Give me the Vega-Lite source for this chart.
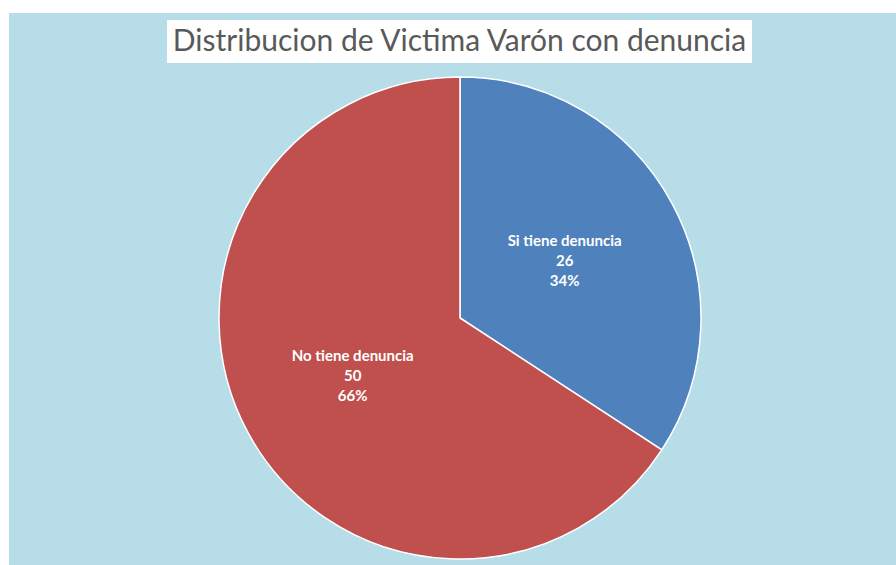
{
  "$schema": "https://vega.github.io/schema/vega-lite/v6.json",
  "background": "#FFFFFF",
  "padding": {"left": 9, "top": 13, "right": 0, "bottom": 0},
  "config": {"view": {"stroke": null}, "concat": {"spacing": 0}},
  "datasets": {
    "casos": [
      {"categoria": "Si tiene denuncia", "casos": 26, "porcentaje": 34},
      {"categoria": "No tiene denuncia", "casos": 50, "porcentaje": 66}
    ]
  },
  "spacing": 0,
  "vconcat": [
    {"data": {"values": []}, "mark": {"type": "text"}, "encoding": {}, "width": 887, "height": 7, "view": {"fill": "#B7DDE8"}},
    {
      "spacing": 0,
      "bounds": "flush",
      "hconcat": [
        {"data": {"values": []}, "mark": {"type": "text"}, "encoding": {}, "width": 158, "height": 43, "view": {"fill": "#B7DDE8"}},
        {
          "data": {"values": [{"titulo": "Distribucion de Victima Varón con denuncia"}]},
          "mark": {"type": "text", "font": "Lato", "fontSize": 30, "color": "#595959", "baseline": "middle", "align": "center"},
          "encoding": {"text": {"field": "titulo", "type": "nominal"}},
          "width": 585, "height": 43, "view": {"fill": "#FFFFFF"}
        },
        {"data": {"values": []}, "mark": {"type": "text"}, "encoding": {}, "width": 144, "height": 43, "view": {"fill": "#B7DDE8"}}
      ]
    },
    {"data": {"values": []}, "mark": {"type": "text"}, "encoding": {}, "width": 887, "height": 8, "view": {"fill": "#B7DDE8"}},
    {
      "spacing": 0,
      "bounds": "flush",
      "hconcat": [
        {"data": {"values": []}, "mark": {"type": "text"}, "encoding": {}, "width": 208, "height": 494, "view": {"fill": "#B7DDE8"}},
        {
          "data": {"name": "casos"},
          "width": 486, "height": 494, "view": {"fill": "#B7DDE8"},
          "transform": [{"calculate": "[datum.categoria, '' + datum.casos, datum.porcentaje + '%']", "as": "lineas"}],
          "encoding": {
            "theta": {"field": "casos", "type": "quantitative", "stack": true},
            "order": {"field": "categoria", "type": "nominal", "sort": "descending"},
            "color": {"field": "categoria", "type": "nominal", "scale": {"domain": ["Si tiene denuncia", "No tiene denuncia"], "range": ["#4F81BD", "#C0504D"]}, "legend": null}
          },
          "layer": [
            {"mark": {"type": "arc", "radius": 241, "stroke": "#FFFFFF", "strokeWidth": 1.5}},
            {
              "mark": {"type": "text", "radius": 119, "dy": -20, "font": "Lato", "fontSize": 15, "fontWeight": "bold", "lineHeight": 20, "baseline": "middle", "align": "center"},
              "encoding": {
                "text": {"condition": {"test": "datum.categoria === 'Si tiene denuncia'", "field": "lineas", "type": "nominal"}, "value": ""},
                "color": {"value": "#FFFFFF"}
              }
            },
            {
              "mark": {"type": "text", "radius": 122, "dy": -20, "font": "Lato", "fontSize": 15, "fontWeight": "bold", "lineHeight": 20, "baseline": "middle", "align": "center"},
              "encoding": {
                "text": {"condition": {"test": "datum.categoria === 'No tiene denuncia'", "field": "lineas", "type": "nominal"}, "value": ""},
                "color": {"value": "#FFFFFF"}
              }
            }
          ]
        },
        {"data": {"values": []}, "mark": {"type": "text"}, "encoding": {}, "width": 193, "height": 494, "view": {"fill": "#B7DDE8"}}
      ]
    }
  ]
}
